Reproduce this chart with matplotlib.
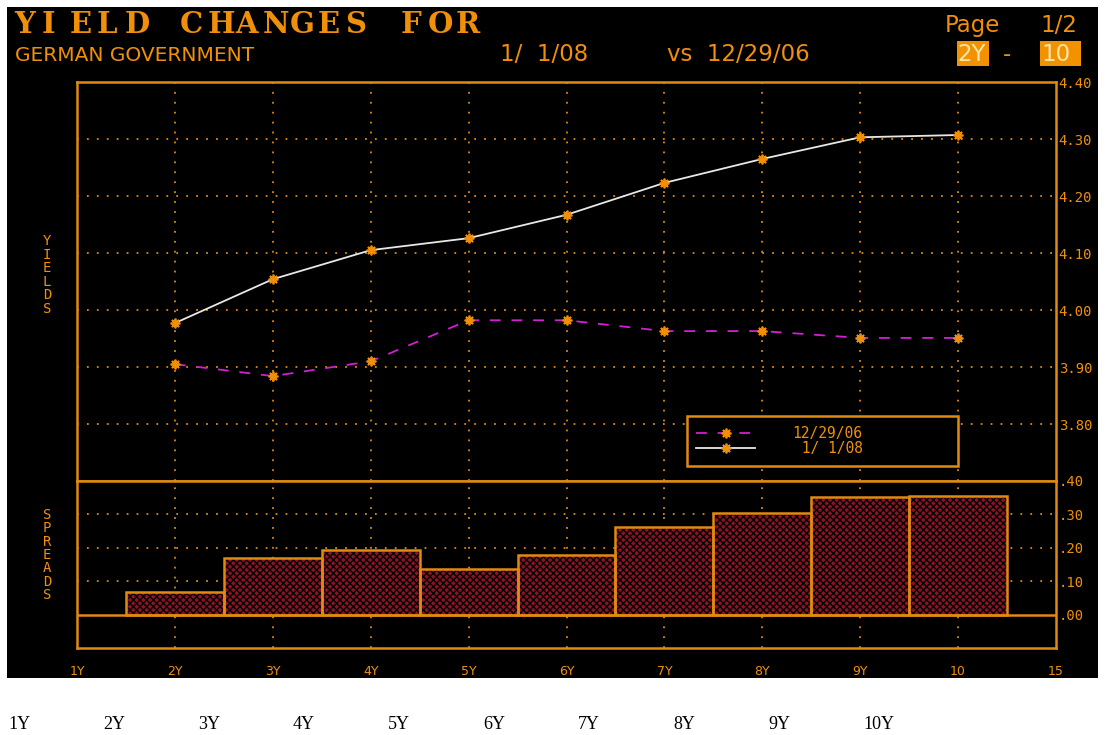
import matplotlib
matplotlib.use("Agg")
import matplotlib.pyplot as plt
from matplotlib.patches import Rectangle
import numpy as np

# ---- data ----
x_tick_labels = ['1Y', '2Y', '3Y', '4Y', '5Y', '6Y', '7Y', '8Y', '9Y', '10', '15']
tenors = ['2Y', '3Y', '4Y', '5Y', '6Y', '7Y', '8Y', '9Y', '10']
yield_0108 = [3.977, 4.054, 4.105, 4.126, 4.167, 4.223, 4.265, 4.303, 4.307]
yield_1229 = [3.905, 3.884, 3.910, 3.982, 3.982, 3.963, 3.963, 3.951, 3.951]
spreads = [0.069, 0.170, 0.194, 0.137, 0.179, 0.263, 0.304, 0.352, 0.355]
yield_ticks = [3.80, 3.90, 4.00, 4.10, 4.20, 4.30, 4.40]
spread_ticks = [0.0, 0.1, 0.2, 0.3, 0.4]
bottom_labels = ['1Y', '2Y', '3Y', '4Y', '5Y', '6Y', '7Y', '8Y', '9Y', '10Y']

W, H = 1106, 735
ORANGE = '#f0900a'
LINE = '#e08a10'
MONO = 'DejaVu Sans Mono'

fig = plt.figure(figsize=(W / 100, H / 100), dpi=100)
fig.patch.set_facecolor('white')

# black screen
fig.patches.append(Rectangle((7 / W, 1 - 678 / H), (1098 - 7) / W, (678 - 7) / H,
                             transform=fig.transFigure, facecolor='black',
                             edgecolor='none', zorder=-10))

def fx(px):
    return px / W

def fy(py):
    return 1 - py / H

L, R = 77, 1056
ax1 = fig.add_axes([fx(L), fy(481), (R - L) / W, (481 - 82) / H])
ax2 = fig.add_axes([fx(L), fy(648), (R - L) / W, (648 - 481) / H], sharex=ax1)

xpos = np.arange(1, len(tenors) + 1)

for ax in (ax1, ax2):
    ax.set_facecolor('black')
    for s in ax.spines.values():
        s.set_color(LINE)
        s.set_linewidth(1.8)
    ax.set_xlim(0, 10)
    ax.yaxis.tick_right()
    ax.tick_params(axis='y', length=0, pad=2, labelcolor=ORANGE, labelsize=10)
    for xv in xpos:
        ax.axvline(xv, color=LINE, lw=1.3, ls=(0, (1, 4.5)), zorder=1)

# ---- yields panel ----
ax1.set_ylim(3.70, 4.40)
ax1.set_yticks(yield_ticks)
ax1.set_yticklabels([f'{v:.2f}' for v in yield_ticks], family=MONO)
for yv in yield_ticks[:-1]:
    ax1.axhline(yv, color=LINE, lw=1.3, ls=(0, (1, 4.5)), zorder=1)
ax1.tick_params(axis='x', bottom=False, labelbottom=False)

ax1.plot(xpos, yield_1229, color='#d21fd2', lw=1.3, ls=(0, (6, 6)),
         marker=(8, 2, 0), ms=7, mec=ORANGE, mfc=ORANGE, mew=1.3,
         label='12/29/06', zorder=3)
ax1.plot(xpos, yield_0108, color='#e8e8e8', lw=1.3, ls='-',
         marker=(8, 2, 0), ms=7, mec=ORANGE, mfc=ORANGE, mew=1.3,
         label=' 1/ 1/08', zorder=3)

leg = ax1.legend(loc='lower left', bbox_to_anchor=(0.623, 0.038, 0.277, 0.125),
                 mode='expand', frameon=True, facecolor='black', edgecolor=LINE,
                 fancybox=False, framealpha=1, prop={'family': MONO, 'size': 10.5},
                 handlelength=4.0, borderpad=0.65, labelspacing=0.05,
                 handletextpad=2.6, borderaxespad=0)
leg.get_frame().set_linewidth(1.8)
for t in leg.get_texts():
    t.set_color(ORANGE)

# ---- spreads panel ----
ax2.set_ylim(-0.10, 0.40)
ax2.set_yticks(spread_ticks)
ax2.set_yticklabels(['.' + f'{v:.2f}'.split('.')[1] for v in spread_ticks], family=MONO)
for yv in spread_ticks[1:-1]:
    ax2.axhline(yv, color=LINE, lw=1.3, ls=(0, (1, 4.5)), zorder=1)
ax2.axhline(0, color=LINE, lw=1.8, zorder=4)
ax2.bar(xpos, spreads, width=1.0, color='#8c1226', edgecolor='black',
        linewidth=0, hatch='xxxxx', zorder=3)
ax2.bar(xpos, spreads, width=1.0, fill=False, edgecolor=LINE,
        linewidth=1.8, zorder=3.5)

ax2.set_xticks(np.arange(0, 11))
ax2.set_xticklabels(x_tick_labels, family='DejaVu Sans', fontsize=9, color=ORANGE)
ax2.tick_params(axis='x', length=0, pad=12, labelcolor=ORANGE)

# vertical stacked labels
fig.text(fx(47), fy(275), '\n'.join('YIELDS'), family=MONO, fontsize=10,
         color=ORANGE, ha='center', va='center', linespacing=0.95)
fig.text(fx(47), fy(555), '\n'.join('SPREADS'), family=MONO, fontsize=10,
         color=ORANGE, ha='center', va='center', linespacing=0.95)

# ---- header ----
title = 'YIELD CHANGES FOR'
for i, ch in enumerate(title):
    fig.text(fx(14 + i * 27.6), fy(33), ch, family='DejaVu Serif', fontweight='bold',
             fontsize=21, color=ORANGE, ha='left', va='baseline')
HS = 16.5
fig.text(fx(15), fy(61), 'GERMAN GOVERNMENT', family='DejaVu Sans',
         fontsize=14.5, color=ORANGE, ha='left', va='baseline')
fig.text(fx(500), fy(61), '1/  1/08', family='DejaVu Sans', fontsize=HS,
         color=ORANGE, ha='left', va='baseline')
fig.text(fx(667), fy(61), 'vs  12/29/06', family='DejaVu Sans', fontsize=HS,
         color=ORANGE, ha='left', va='baseline')
fig.text(fx(945), fy(32), 'Page', family='DejaVu Sans', fontsize=HS,
         color=ORANGE, ha='left', va='baseline')
fig.text(fx(1040), fy(32), '1/2', family='DejaVu Sans', fontsize=HS,
         color=ORANGE, ha='left', va='baseline')
fig.patches.append(Rectangle((fx(957), fy(66)), 32 / W, 25 / H, transform=fig.transFigure,
                             facecolor='#f39200', edgecolor='none'))
fig.patches.append(Rectangle((fx(1040), fy(66)), 41 / W, 25 / H, transform=fig.transFigure,
                             facecolor='#f39200', edgecolor='none'))
fig.text(fx(957), fy(61), '2Y', family='DejaVu Sans', fontsize=HS,
         color='#ffe6a8', ha='left', va='baseline')
fig.text(fx(1003), fy(61), '-', family='DejaVu Sans', fontsize=HS,
         color=ORANGE, ha='left', va='baseline')
fig.text(fx(1041), fy(61), '10', family='DejaVu Sans', fontsize=HS,
         color='#ffe6a8', ha='left', va='baseline')

# ---- bottom white-area labels ----
for i, lab in enumerate(bottom_labels):
    fig.text(fx(8 + i * 95), fy(729), lab, family='Liberation Serif', fontsize=13,
             color='black', ha='left', va='baseline')

fig.savefig('out.png', dpi=100, facecolor=fig.get_facecolor())
